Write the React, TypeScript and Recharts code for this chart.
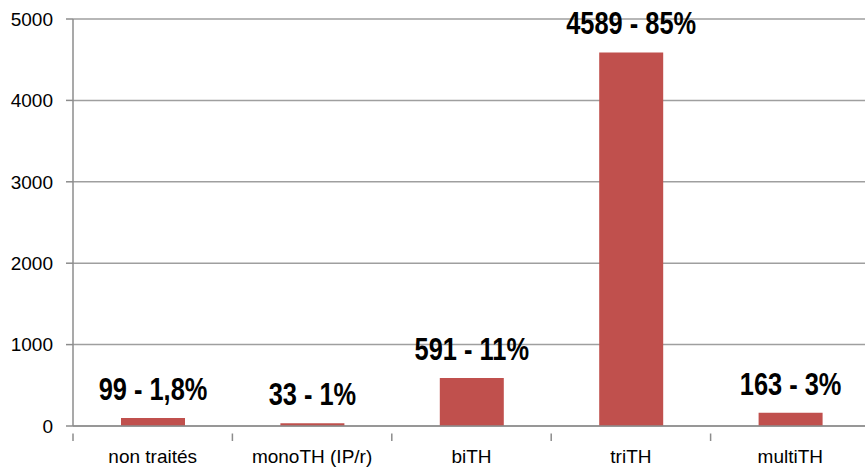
import { BarChart, Bar, XAxis, YAxis, CartesianGrid, LabelList } from 'recharts';

const categories = ['non traités', 'monoTH (IP/r)', 'biTH', 'triTH', 'multiTH'];
const counts = [99, 33, 591, 4589, 163];
const shares = ['1,8%', '1%', '11%', '85%', '3%'];
const yTicks = [0, 1000, 2000, 3000, 4000, 5000];

const CHART_W = 870;
const CHART_H = 467;
const Y_AXIS_W = 73;
const X_AXIS_H = 41;
// largeur d'une catégorie (pour les graduations entre les barres, façon Excel)
const BAND = (CHART_W - Y_AXIS_W) / categories.length;

const data = categories.map((name, i) => ({
  name,
  count: counts[i],
  label: `${counts[i]} - ${shares[i]}`,
}));

const AXIS_COLOR = '#8c8c8c';
const GRID_COLOR = '#9f9f9f';
const FONT = '"Liberation Sans", Arial, sans-serif';

function CategoryTick({ x, y, payload }: any) {
  const left = x - BAND / 2;
  return (
    <g>
      <line x1={left} x2={left} y1={y - 0.5} y2={y + 7} stroke={AXIS_COLOR} strokeWidth={1.5} />
      <text x={x} y={y + 29} textAnchor="middle" fontSize={19} fontFamily={FONT} fill="#000">
        {payload.value}
      </text>
    </g>
  );
}

// pas d'Arial Narrow installée : on compresse l'Arial gras horizontalement
function BarLabel({ x, y, width, value }: any) {
  return (
    <text
      transform={`translate(${x + width / 2}, ${y - 18}) scale(0.82, 1)`}
      textAnchor="middle"
      fontSize={31}
      fontWeight="bold"
      fontFamily={FONT}
      fill="#000"
    >
      {value}
    </text>
  );
}

export default function App() {
  return (
    <div style={{ position: 'absolute', left: 0, top: 0, width: 865, height: 467, overflow: 'hidden', background: '#fff' }}>
      <BarChart
        width={CHART_W}
        height={CHART_H}
        data={data}
        margin={{ top: 19, right: 0, bottom: 0, left: 0 }}
        barSize={64}
      >
        <CartesianGrid vertical={false} stroke={GRID_COLOR} strokeWidth={1.5} />
        <XAxis
          dataKey="name"
          height={X_AXIS_H}
          axisLine={{ stroke: AXIS_COLOR, strokeWidth: 1.5 }}
          tickLine={false}
          tick={<CategoryTick />}
          interval={0}
        />
        <YAxis
          width={Y_AXIS_W}
          domain={[0, 5000]}
          ticks={yTicks}
          axisLine={{ stroke: AXIS_COLOR, strokeWidth: 1.5 }}
          tickLine={{ stroke: AXIS_COLOR, strokeWidth: 1.5 }}
          tickSize={7}
          tickMargin={13}
          tick={{ fill: '#000', fontSize: 19, fontFamily: FONT }}
        />
        <Bar dataKey="count" fill="#c0504d" isAnimationActive={false}>
          <LabelList dataKey="label" content={<BarLabel />} />
        </Bar>
      </BarChart>
    </div>
  );
}
